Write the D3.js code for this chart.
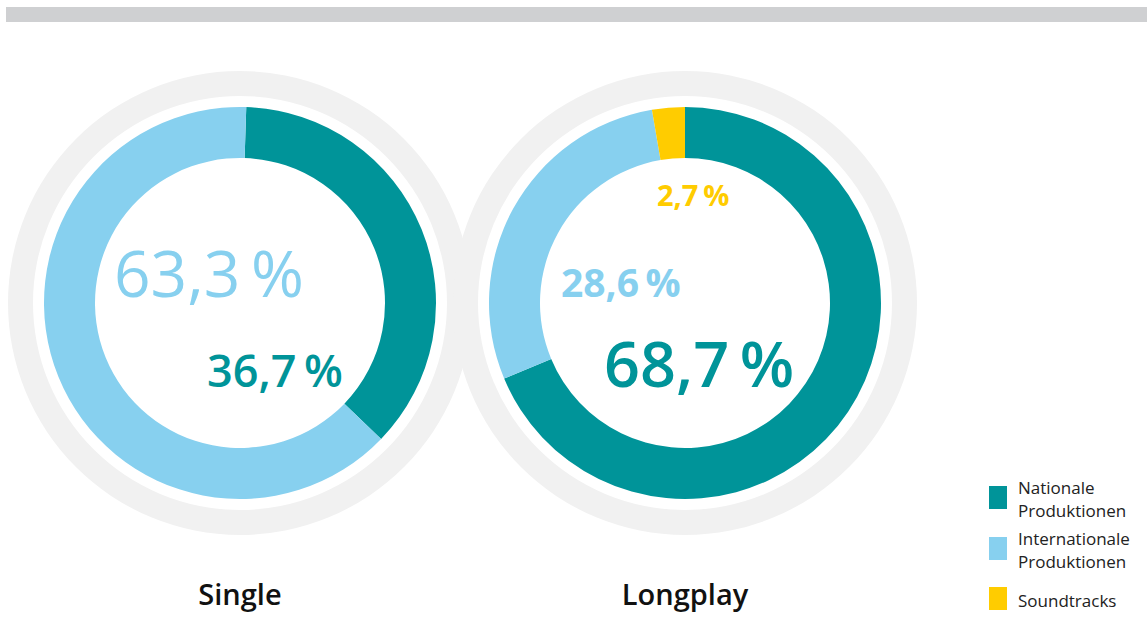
<!DOCTYPE html>
<meta charset="utf-8">
<style>
	body { margin: 0; background: #fff; }
	svg { display: block; font-family: "Open Sans", "Noto Sans", sans-serif; }
</style>
<svg width="1147" height="631"></svg>
<script src="https://d3js.org/d3.v7.min.js"></script>
<script>
	// data
	var categories = ["Nationale Produktionen", "Internationale Produktionen", "Soundtracks"];
	var charts = ["Single", "Longplay"];
	var singleValues = [36.7, 63.3, 0];
	var longplayValues = [68.7, 28.6, 2.7];
	var colors = ["#009499", "#87d0ef", "#ffcc00"];

	var svg = d3.select("svg");

	// top bar
	svg.append("rect")
		.attr("x", 6).attr("y", 7)
		.attr("width", 1141).attr("height", 15)
		.attr("fill", "#cfd0d2");

	var fmt = function(v) { return d3.format(".1f")(v).replace(".", ",") + "\u2009%"; };

	// layout per donut
	var layout = [
		{ cx: 240, cy: 303, offset: 0.032, values: singleValues,
		  labels: [
			{ i: 1, x: -126, y: -6, size: 64, weight: 400 },
			{ i: 0, x: -33, y: 84, size: 45, weight: 600 }
		  ] },
		{ cx: 685, cy: 303, offset: 0, values: longplayValues,
		  labels: [
			{ i: 2, x: -28, y: -97, size: 29, weight: 700 },
			{ i: 1, x: -124, y: -6, size: 39, weight: 700 },
			{ i: 0, x: -81, y: 84, size: 63, weight: 600 }
		  ] }
	];

	var ring = d3.arc().innerRadius(207).outerRadius(232).startAngle(0).endAngle(2 * Math.PI);
	var arc = d3.arc().innerRadius(145).outerRadius(196);

	layout.forEach(function(d, k) {
		var g = svg.append("g").attr("transform", "translate(" + d.cx + "," + d.cy + ")");
		d.g = g;
		g.append("path").attr("d", ring()).attr("fill", "#f1f1f1");
	});

	layout.forEach(function(d, k) {
		var pie = d3.pie().sort(null).value(function(v) { return v; })
			.startAngle(d.offset).endAngle(d.offset + 2 * Math.PI);
		d.g.selectAll("path.slice")
			.data(pie(d.values))
			.enter().append("path")
			.attr("class", "slice")
			.attr("d", arc)
			.attr("fill", function(s, i) { return colors[i]; });

		d.g.selectAll("text.val")
			.data(d.labels)
			.enter().append("text")
			.attr("class", "val")
			.attr("x", function(l) { return l.x; })
			.attr("y", function(l) { return l.y; })
			.attr("font-size", function(l) { return l.size; })
			.attr("font-weight", function(l) { return l.weight; })
			.attr("fill", function(l) { return colors[l.i]; })
			.text(function(l) { return fmt(d.values[l.i]); });

		svg.append("text")
			.attr("x", d.cx).attr("y", 605)
			.attr("text-anchor", "middle")
			.attr("font-size", 29).attr("font-weight", 600)
			.attr("fill", "#111")
			.text(charts[k]);
	});

	// legend
	var legendLines = [["Nationale", "Produktionen"], ["Internationale", "Produktionen"], ["Soundtracks"]];
	var legendY = [486, 537, 587];
	var legend = svg.append("g");
	categories.forEach(function(c, i) {
		legend.append("rect")
			.attr("x", 989).attr("y", legendY[i])
			.attr("width", 18).attr("height", 23)
			.attr("fill", colors[i]);
		var first = legendLines[i].length === 1 ? legendY[i] + 20 : legendY[i] + 8;
		legendLines[i].forEach(function(line, j) {
			legend.append("text")
				.attr("x", 1018).attr("y", first + j * 23)
				.attr("font-size", 17).attr("fill", "#222")
				.text(line);
		});
	});
</script>
